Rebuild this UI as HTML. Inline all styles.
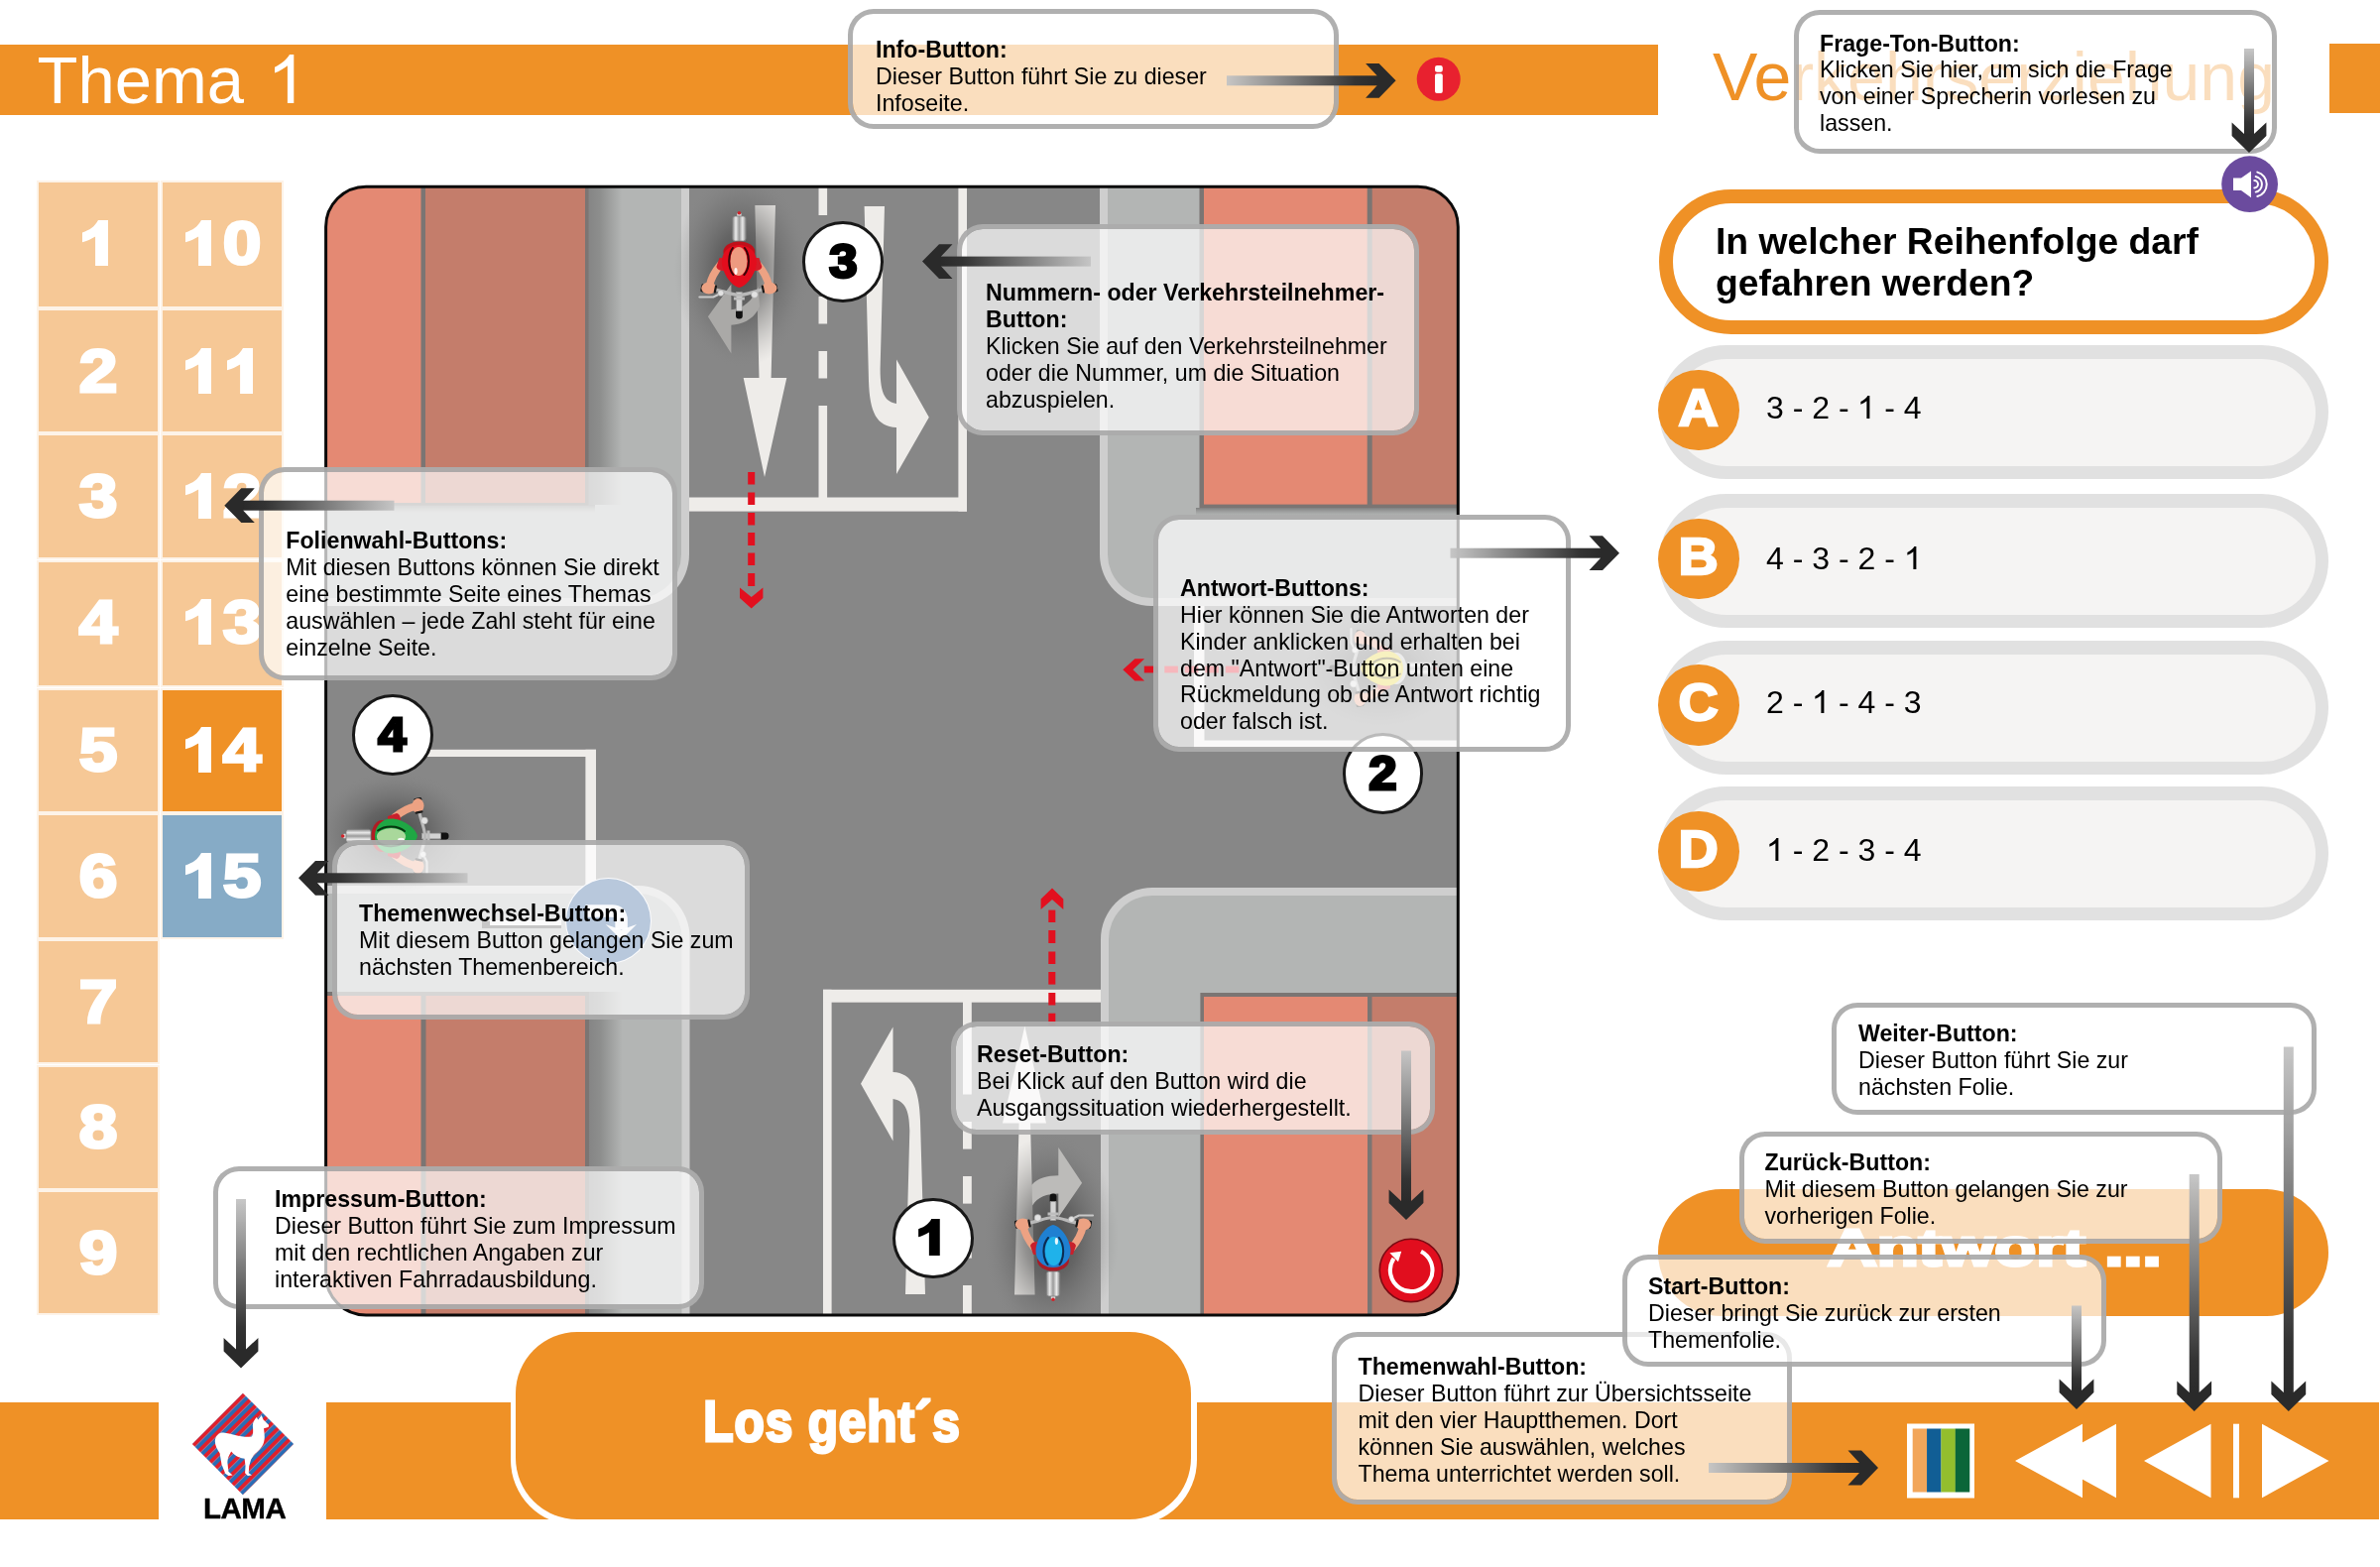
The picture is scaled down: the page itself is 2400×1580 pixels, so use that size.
<!DOCTYPE html><html><head><meta charset='utf-8'><title>Thema 1</title><style>
*{box-sizing:border-box;margin:0;padding:0}
html,body{width:2400px;height:1580px;background:#fff;overflow:hidden}
body{position:relative;font-family:"Liberation Sans",sans-serif;color:#000}
.abs{position:absolute}
.bar{position:absolute;background:#EF9126}
.cell{position:absolute;background:#F6C896;outline:2px solid rgba(246,200,150,.22)}
.cell span{position:absolute;width:60px;top:25.8px;text-align:center;font-weight:bold;font-size:62px;line-height:70px;color:#fff;-webkit-text-stroke:3px #fff;transform:scaleX(1.12)}
.cell svg{position:absolute;top:37.6px}
.pill{position:absolute;left:1672.5px;width:675.5px;height:135px;border-radius:67.5px;background:#E1E1E1}
.pill i{position:absolute;left:14px;top:14px;right:13px;bottom:13px;border-radius:54px;background:#F5F4F3}
.circ{position:absolute;left:1672.4px;width:81.4px;height:81.4px;border-radius:50%;background:#EF9126;color:#fff;text-align:center;font-weight:bold;font-size:51.5px;line-height:77.5px;-webkit-text-stroke:2.3px #fff}
.circ b{display:inline-block;transform:scaleX(1.08)}
.ans{position:absolute;left:1781px;font-size:32px;line-height:40px;white-space:nowrap}
.tip{position:absolute;border:5px solid rgba(172,172,172,.95);background:rgba(255,255,255,.7);background-clip:padding-box;border-radius:26px}
.tt{position:absolute;font-size:23.2px;line-height:26.9px;white-space:nowrap}
.tt b{font-weight:bold}
.num{position:absolute;width:81.6px;height:81.6px;border-radius:50%;background:#fff;border:3.7px solid #181818;text-align:center;font-weight:bold;font-size:48px;line-height:75.5px;-webkit-text-stroke:3px #000}
.num b{display:inline-block;transform:scaleX(1.06)}
.num svg{position:absolute;left:23.2px;top:18.2px}
</style></head><body><div id='root' style='position:absolute;left:0;top:0;width:2400px;height:1580px;will-change:transform'>
<div class='bar' style='left:0;top:45px;width:1672px;height:71px'></div>
<div class='bar' style='left:2349px;top:43.8px;width:51px;height:70.5px'></div>
<div class='abs' style='left:37.6px;top:40.6px;font-size:67px;line-height:80px;color:#fff;white-space:nowrap'>Thema</div>
<svg class='abs' style='left:277.3px;top:54.5px' width='19.3' height='49' viewBox='0 0 19.3 49'><path d='M19.3 49 H12.9 V11.2 C9.6 14 4.6 16.9 0 18.5 V12.7 C6.6 9.6 12.4 4.6 15 0 H19.3 Z' fill='#fff'/></svg>
<div class='abs' style='left:1727px;top:37px;font-size:68px;line-height:80px;color:#EF9126;white-space:nowrap'>Verkehrserziehung</div>
<div class='cell' style='left:39px;top:184.3px;width:120px;height:124.4px'><svg style='left:43.9px' width='26.4' height='46' viewBox='0 0 26.4 46'><path d='M16 0 H26.4 V46 H13.1 V16.4 C9 19 4.5 21 0 22.2 V12.4 C7.5 10 12.5 6.5 16 0 Z' fill='#fff'/></svg></div>
<div class='cell' style='left:39px;top:313px;width:120px;height:122.1px'><span style='left:30px'>2</span></div>
<div class='cell' style='left:39px;top:439.4px;width:120px;height:122.8px'><span style='left:30px'>3</span></div>
<div class='cell' style='left:39px;top:566.5px;width:120px;height:124.8px'><span style='left:30px'>4</span></div>
<div class='cell' style='left:39px;top:695.6px;width:120px;height:122.5px'><span style='left:30px'>5</span></div>
<div class='cell' style='left:39px;top:822.4px;width:120px;height:122.4px'><span style='left:30px'>6</span></div>
<div class='cell' style='left:39px;top:949.1px;width:120px;height:122.1px'><span style='left:30px'>7</span></div>
<div class='cell' style='left:39px;top:1075.5px;width:120px;height:122.3px'><span style='left:30px'>8</span></div>
<div class='cell' style='left:39px;top:1202.1px;width:120px;height:122.4px'><span style='left:30px'>9</span></div>
<div class='cell' style='left:163.5px;top:184.3px;width:120.3px;height:124.4px;'><svg style='left:23.3px' width='26.4' height='46' viewBox='0 0 26.4 46'><path d='M16 0 H26.4 V46 H13.1 V16.4 C9 19 4.5 21 0 22.2 V12.4 C7.5 10 12.5 6.5 16 0 Z' fill='#fff'/></svg><span style='left:50.8px'>0</span></div>
<div class='cell' style='left:163.5px;top:313px;width:120.3px;height:122.1px;'><svg style='left:23.3px' width='26.4' height='46' viewBox='0 0 26.4 46'><path d='M16 0 H26.4 V46 H13.1 V16.4 C9 19 4.5 21 0 22.2 V12.4 C7.5 10 12.5 6.5 16 0 Z' fill='#fff'/></svg><svg style='left:65px' width='26.4' height='46' viewBox='0 0 26.4 46'><path d='M16 0 H26.4 V46 H13.1 V16.4 C9 19 4.5 21 0 22.2 V12.4 C7.5 10 12.5 6.5 16 0 Z' fill='#fff'/></svg></div>
<div class='cell' style='left:163.5px;top:439.4px;width:120.3px;height:122.8px;'><svg style='left:23.3px' width='26.4' height='46' viewBox='0 0 26.4 46'><path d='M16 0 H26.4 V46 H13.1 V16.4 C9 19 4.5 21 0 22.2 V12.4 C7.5 10 12.5 6.5 16 0 Z' fill='#fff'/></svg><span style='left:50.8px'>2</span></div>
<div class='cell' style='left:163.5px;top:566.5px;width:120.3px;height:124.8px;'><svg style='left:23.3px' width='26.4' height='46' viewBox='0 0 26.4 46'><path d='M16 0 H26.4 V46 H13.1 V16.4 C9 19 4.5 21 0 22.2 V12.4 C7.5 10 12.5 6.5 16 0 Z' fill='#fff'/></svg><span style='left:50.8px'>3</span></div>
<div class='cell' style='left:163.5px;top:695.6px;width:120.3px;height:122.5px;background:#EF9126;'><svg style='left:23.3px' width='26.4' height='46' viewBox='0 0 26.4 46'><path d='M16 0 H26.4 V46 H13.1 V16.4 C9 19 4.5 21 0 22.2 V12.4 C7.5 10 12.5 6.5 16 0 Z' fill='#fff'/></svg><span style='left:50.8px'>4</span></div>
<div class='cell' style='left:163.5px;top:822.4px;width:120.3px;height:122.4px;background:#86ABC6;'><svg style='left:23.3px' width='26.4' height='46' viewBox='0 0 26.4 46'><path d='M16 0 H26.4 V46 H13.1 V16.4 C9 19 4.5 21 0 22.2 V12.4 C7.5 10 12.5 6.5 16 0 Z' fill='#fff'/></svg><span style='left:50.8px'>5</span></div>
<svg class='abs' style='left:0;top:0' width='2400' height='1580' viewBox='0 0 2400 1580'>
<defs>
<clipPath id='sc'><rect x='328.6' y='188.2' width='1141.7' height='1137.8' rx='40.5' ry='40.5'/></clipPath>
<linearGradient id='shE' x1='0' x2='1' y1='0' y2='0'><stop offset='0' stop-color='#858585'/><stop offset='.35' stop-color='#8d8e8d'/><stop offset='1' stop-color='#B3B5B4'/></linearGradient>
<linearGradient id='shS' x1='0' x2='0' y1='0' y2='1'><stop offset='0' stop-color='#6e6e6e' stop-opacity='.75'/><stop offset='1' stop-color='#8a8a8a' stop-opacity='0'/></linearGradient>
<radialGradient id='shd'><stop offset='0' stop-color='#3a3a3a' stop-opacity='.8'/><stop offset='.4' stop-color='#484848' stop-opacity='.55'/><stop offset='.75' stop-color='#606060' stop-opacity='.22'/><stop offset='1' stop-color='#808080' stop-opacity='0'/></radialGradient>
<linearGradient id='rack' x1='0' x2='1' y1='0' y2='0'><stop offset='0' stop-color='#8d8d8d'/><stop offset='.25' stop-color='#e8e8e8'/><stop offset='.5' stop-color='#9a9a9a'/><stop offset='.75' stop-color='#ececec'/><stop offset='1' stop-color='#858585'/></linearGradient>
</defs>
<g clip-path='url(#sc)'>
<rect x='328' y='186' width='1146' height='1144' fill='#878787'/>
<path d='M320 180 H695 V559 A52 52 0 0 1 643 611 H320 Z' fill='#CECECE'/>
<path d='M320 180 H687 V559 A44 44 0 0 1 643 603 H320 Z' fill='#B3B5B4'/>
<path d='M1480 180 H1109 V559 A52 52 0 0 0 1161 611 H1480 Z' fill='#CECECE'/>
<path d='M1480 180 H1117 V559 A44 44 0 0 0 1161 603 H1480 Z' fill='#B3B5B4'/>
<path d='M320 1335 H695.5 V945 A52 52 0 0 0 643.5 893 H320 Z' fill='#CECECE'/>
<path d='M320 1335 H687.5 V945 A44 44 0 0 0 643.5 901 H320 Z' fill='#B3B5B4'/>
<path d='M1480 1335 H1110 V947 A52 52 0 0 1 1162 895 H1480 Z' fill='#CECECE'/>
<path d='M1480 1335 H1118 V947 A44 44 0 0 1 1162 903 H1480 Z' fill='#B3B5B4'/>
<rect x='593' y='186' width='34' height='323' fill='url(#shE)'/>
<rect x='328' y='509' width='272' height='8' fill='url(#shS)'/>
<rect x='320' y='180' width='273.5' height='329.5' fill='#7B7573'/>
<rect x='320' y='180' width='104.5' height='327' fill='#E48973'/>
<rect x='429' y='180' width='161' height='327' fill='#C47D6B'/>
<rect x='593.5' y='1000' width='34' height='340' fill='url(#shE)'/>
<rect x='320' y='1000' width='274' height='340' fill='#7B7573'/>
<rect x='320' y='1004' width='104.5' height='340' fill='#E48973'/>
<rect x='429.5' y='1004' width='160.5' height='340' fill='#C47D6B'/>
<rect x='1206' y='512' width='280' height='8' fill='url(#shS)'/>
<rect x='1209.5' y='180' width='280' height='332' fill='#7B7573'/>
<rect x='1214' y='180' width='164.7' height='328.6' fill='#E48973'/>
<rect x='1383.7' y='180' width='100' height='328.6' fill='#C47D6B'/>
<rect x='1210.4' y='1001' width='280' height='340' fill='#7B7573'/>
<rect x='1214' y='1005' width='165' height='340' fill='#E48973'/>
<rect x='1383.5' y='1005' width='100' height='340' fill='#C47D6B'/>
<rect x='966.4' y='186' width='8.6' height='329.6' fill='#EEECE9'/>
<rect x='695' y='501.5' width='280' height='14.1' fill='#EEECE9'/>
<rect x='825.5' y='186' width='8.6' height='31' fill='#EEECE9'/>
<rect x='825.5' y='244' width='8.6' height='27.5' fill='#EEECE9'/>
<rect x='825.5' y='299' width='8.6' height='27.5' fill='#EEECE9'/>
<rect x='825.5' y='354' width='8.6' height='27.5' fill='#EEECE9'/>
<rect x='825.5' y='409' width='8.6' height='93' fill='#EEECE9'/>
<rect x='830' y='997.8' width='8.6' height='335' fill='#EEECE9'/>
<rect x='830' y='997.8' width='280' height='12.9' fill='#EEECE9'/>
<rect x='971' y='1010' width='8.8' height='93.5' fill='#EEECE9'/>
<rect x='971' y='1131' width='8.8' height='27.59999999999991' fill='#EEECE9'/>
<rect x='971' y='1186' width='8.8' height='27.59999999999991' fill='#EEECE9'/>
<rect x='971' y='1241' width='8.8' height='27.59999999999991' fill='#EEECE9'/>
<rect x='971' y='1296' width='8.8' height='34' fill='#EEECE9'/>
<rect x='395' y='755.8' width='206' height='7.2' fill='#EEECE9'/>
<rect x='590.4' y='755.8' width='10.6' height='138' fill='#EEECE9'/>
<rect x='1204' y='611' width='10.5' height='143.5' fill='#EEECE9'/>
<rect x='1204' y='746.5' width='280' height='8' fill='#EEECE9'/>
<path d='M761.3 207 H782 L777.6 381 H793.3 L771 481 L749.7 381 H765.5 Z' fill='#EEECE9'/>
<path d='M871.6 208 H892 L887.6 372 C887.6 398 893 405 904 407 V362.6 L936.8 420.8 L904 478 V431 C884 430 877 416 876 384 Z' fill='#EEECE9'/>
<path d='M913 1305 H933 L928 1130 C927 1098 920 1082 900.5 1081 V1035.5 L868 1092.8 L900.5 1150.4 V1108 C912 1110 917 1118 917.3 1140 Z' fill='#EEECE9'/>
<path d='M1023 1305.5 H1043.6 L1039 1132.6 H1055 L1033.4 1034.6 L1011 1132.6 H1027.6 Z' fill='#EEECE9'/>
<ellipse cx='748' cy='272' rx='68' ry='98' fill='url(#shd)'/>
<ellipse cx='1060' cy='1248' rx='68' ry='105' fill='url(#shd)'/>
<ellipse cx='398' cy='840' rx='80' ry='62' fill='url(#shd)'/>
<ellipse cx='1392' cy='676' rx='85' ry='62' fill='url(#shd)'/>
<path d='M737.4 327.8 C750 327 761 321 766 309 L764.5 289 C760 302 750 311.5 737.4 312.3 V286.4 L713.9 319.2 L737.4 356.5 Z' fill='#aaa9a7'/>
<path d='M1040.2 1195 C1046 1188 1056 1185.2 1067.3 1185.2 V1157 L1091.1 1192.8 L1067.3 1227.5 V1203.6 C1056 1203.6 1046 1207 1041.2 1215.6 Z' fill='#bcbbb9'/>
<rect x='754.2' y='476' width='7' height='12.5' fill='#E2101F'/>
<rect x='754.2' y='496.5' width='7' height='12.5' fill='#E2101F'/>
<rect x='754.2' y='517' width='7' height='12.5' fill='#E2101F'/>
<rect x='754.2' y='537' width='7' height='13.0' fill='#E2101F'/>
<rect x='754.2' y='557.5' width='7' height='12.5' fill='#E2101F'/>
<rect x='754.2' y='578' width='7' height='13.0' fill='#E2101F'/>
<path d='M746 592.5 L757.7 602 L769.4 592.5 V603 L757.7 613.5 L746 603 Z' fill='#E2101F'/>
<rect x='1057.3' y='917.6' width='7' height='12.4' fill='#E2101F'/>
<rect x='1057.3' y='938' width='7' height='13.0' fill='#E2101F'/>
<rect x='1057.3' y='959.5' width='7' height='12.5' fill='#E2101F'/>
<rect x='1057.3' y='980' width='7' height='12.6' fill='#E2101F'/>
<rect x='1057.3' y='1001' width='7' height='12.5' fill='#E2101F'/>
<rect x='1057.3' y='1021.7' width='7' height='12.3' fill='#E2101F'/>
<path d='M1049.6 917 L1061 907 L1072.3 917 V906.5 L1061 895.5 L1049.6 906.5 Z' fill='#E2101F'/>
<rect x='1153.8' y='671.6' width='13.6' height='6.8' fill='#E2101F'/>
<rect x='1174.3' y='671.6' width='13.6' height='6.8' fill='#E2101F'/>
<rect x='1194.8' y='671.6' width='13.6' height='6.8' fill='#E2101F'/>
<rect x='1215.3' y='671.6' width='13.6' height='6.8' fill='#E2101F'/>
<rect x='1235.8' y='671.6' width='13.6' height='6.8' fill='#E2101F'/>
<path d='M1154.1 664.2 L1142.5 675.2 L1154.1 686.6 H1144.4 L1132.3 675.2 L1144.4 664.2 Z' fill='#E2101F'/>
<g opacity='.95'><g transform='translate(1395 674) rotate(-90)'>
<rect x='-2.2' y='48' width='4.4' height='4.5' rx='1.5' fill='#d9d9d9'/><circle cx='0' cy='52.3' r='1.8' fill='#D2232A'/>
<rect x='-6.8' y='24' width='13.6' height='25' rx='2.5' fill='url(#rack)' stroke='#7d7d7d' stroke-width='.8'/>
<rect x='-3.4' y='-54.5' width='6.8' height='10' rx='3' fill='#111'/>
<rect x='-2.8' y='-46.5' width='5.6' height='19' fill='#d4d4d4' stroke='#9a9a9a' stroke-width='.6'/>
<rect x='-5.5' y='-35.5' width='11' height='3' fill='#bdbdbd'/>
<path d='M-26 -24.5 C-16 -26 -8 -30.5 0 -30.5 C8 -30.5 16 -26 26 -24.5' fill='none' stroke='#b9b9b9' stroke-width='3.2' stroke-linecap='round'/>
<path d='M19 -29 L26 -32.5 H40' fill='none' stroke='#c9c9c9' stroke-width='2.2' stroke-linecap='round'/>
<circle cx='-15.5' cy='-30' r='3.4' fill='#e2e2e2' stroke='#a5a5a5' stroke-width='.6'/><circle cx='18.5' cy='-28.5' r='3' fill='#e2e2e2' stroke='#a5a5a5' stroke-width='.6'/>
<rect x='-38.5' y='-27.5' width='4' height='8' rx='1.5' fill='#1a1a1a' transform='rotate(-12 -36 -23)'/><rect x='34.5' y='-27.5' width='4' height='8' rx='1.5' fill='#1a1a1a' transform='rotate(12 36 -23)'/>
<path d='M-30 -21 C-28 -12 -24 -6 -19 0' fill='none' stroke='#EDA283' stroke-width='7.5' stroke-linecap='round'/>
<path d='M30 -21 C28 -12 24 -6 19 0' fill='none' stroke='#EDA283' stroke-width='7.5' stroke-linecap='round'/>
<ellipse cx='-30.5' cy='-23.5' rx='7.6' ry='6' fill='#EDA283'/><ellipse cx='30.5' cy='-23.5' rx='7.6' ry='6' fill='#EDA283'/>
<rect x='-25' y='-28.5' width='2.2' height='8' rx='1' fill='#1a1a1a' transform='rotate(-12 -24 -24)'/><rect x='22.8' y='-28.5' width='2.2' height='8' rx='1' fill='#1a1a1a' transform='rotate(12 24 -24)'/>
<path d='M-23 -2 C-22 -6 -16 -7 -12 -5 L12 -5 C16 -7 22 -6 23 -2 L20 7 L-20 7 Z' fill='#D9534F'/>
<ellipse cx='0' cy='13' rx='16' ry='10.5' fill='#c9c9c9'/>
<path d='M0 -23 C9 -21 17.5 -7 17.5 3 C17.5 13 10 20 0 20 C-10 20 -17.5 13 -17.5 3 C-17.5 -7 -9 -21 0 -23 Z' fill='#EBD62B'/>
<ellipse cx='0.5' cy='3.5' rx='8.6' ry='14.6' fill='#F6E660'/>
<path d='M-5 -10 C-11 -3 -11 10 -5.5 17' fill='none' stroke='#4b3d05' stroke-width='2' stroke-linecap='round'/>
<path d='M6 -10 C11.5 -3 11.5 10 6.5 17' fill='none' stroke='#4b3d05' stroke-width='2' stroke-linecap='round'/>
<ellipse cx='3.4' cy='-6.5' rx='1.6' ry='3.4' fill='#fff' opacity='.9'/>
</g></g>
<g transform='translate(745.4 267) rotate(180)'>
<rect x='-2.2' y='48' width='4.4' height='4.5' rx='1.5' fill='#d9d9d9'/><circle cx='0' cy='52.3' r='1.8' fill='#D2232A'/>
<rect x='-6.8' y='24' width='13.6' height='25' rx='2.5' fill='url(#rack)' stroke='#7d7d7d' stroke-width='.8'/>
<rect x='-3.4' y='-54.5' width='6.8' height='10' rx='3' fill='#111'/>
<rect x='-2.8' y='-46.5' width='5.6' height='19' fill='#d4d4d4' stroke='#9a9a9a' stroke-width='.6'/>
<rect x='-5.5' y='-35.5' width='11' height='3' fill='#bdbdbd'/>
<path d='M-26 -24.5 C-16 -26 -8 -30.5 0 -30.5 C8 -30.5 16 -26 26 -24.5' fill='none' stroke='#b9b9b9' stroke-width='3.2' stroke-linecap='round'/>
<path d='M19 -29 L26 -32.5 H40' fill='none' stroke='#c9c9c9' stroke-width='2.2' stroke-linecap='round'/>
<circle cx='-15.5' cy='-30' r='3.4' fill='#e2e2e2' stroke='#a5a5a5' stroke-width='.6'/><circle cx='18.5' cy='-28.5' r='3' fill='#e2e2e2' stroke='#a5a5a5' stroke-width='.6'/>
<rect x='-38.5' y='-27.5' width='4' height='8' rx='1.5' fill='#1a1a1a' transform='rotate(-12 -36 -23)'/><rect x='34.5' y='-27.5' width='4' height='8' rx='1.5' fill='#1a1a1a' transform='rotate(12 36 -23)'/>
<path d='M-30 -21 C-28 -12 -24 -6 -19 0' fill='none' stroke='#EDA283' stroke-width='7.5' stroke-linecap='round'/>
<path d='M30 -21 C28 -12 24 -6 19 0' fill='none' stroke='#EDA283' stroke-width='7.5' stroke-linecap='round'/>
<ellipse cx='-30.5' cy='-23.5' rx='7.6' ry='6' fill='#EDA283'/><ellipse cx='30.5' cy='-23.5' rx='7.6' ry='6' fill='#EDA283'/>
<rect x='-25' y='-28.5' width='2.2' height='8' rx='1' fill='#1a1a1a' transform='rotate(-12 -24 -24)'/><rect x='22.8' y='-28.5' width='2.2' height='8' rx='1' fill='#1a1a1a' transform='rotate(12 24 -24)'/>
<path d='M-23 -2 C-22 -6 -16 -7 -12 -5 L12 -5 C16 -7 22 -6 23 -2 L20 7 L-20 7 Z' fill='#D41B27'/>
<ellipse cx='0' cy='13' rx='16' ry='10.5' fill='#C0101A'/>
<path d='M0 -23 C9 -21 17.5 -7 17.5 3 C17.5 13 10 20 0 20 C-10 20 -17.5 13 -17.5 3 C-17.5 -7 -9 -21 0 -23 Z' fill='#E30D1D'/>
<ellipse cx='0.5' cy='3.5' rx='8.6' ry='14.6' fill='#EE9A80'/>
<path d='M-5 -10 C-11 -3 -11 10 -5.5 17' fill='none' stroke='#3a0508' stroke-width='2' stroke-linecap='round'/>
<path d='M6 -10 C11.5 -3 11.5 10 6.5 17' fill='none' stroke='#3a0508' stroke-width='2' stroke-linecap='round'/>
<ellipse cx='3.4' cy='-6.5' rx='1.6' ry='3.4' fill='#fff' opacity='.9'/>
</g>
<g transform='translate(1062 1258) rotate(0)'>
<rect x='-2.2' y='48' width='4.4' height='4.5' rx='1.5' fill='#d9d9d9'/><circle cx='0' cy='52.3' r='1.8' fill='#D2232A'/>
<rect x='-6.8' y='24' width='13.6' height='25' rx='2.5' fill='url(#rack)' stroke='#7d7d7d' stroke-width='.8'/>
<rect x='-3.4' y='-54.5' width='6.8' height='10' rx='3' fill='#111'/>
<rect x='-2.8' y='-46.5' width='5.6' height='19' fill='#d4d4d4' stroke='#9a9a9a' stroke-width='.6'/>
<rect x='-5.5' y='-35.5' width='11' height='3' fill='#bdbdbd'/>
<path d='M-26 -24.5 C-16 -26 -8 -30.5 0 -30.5 C8 -30.5 16 -26 26 -24.5' fill='none' stroke='#b9b9b9' stroke-width='3.2' stroke-linecap='round'/>
<path d='M19 -29 L26 -32.5 H40' fill='none' stroke='#c9c9c9' stroke-width='2.2' stroke-linecap='round'/>
<circle cx='-15.5' cy='-30' r='3.4' fill='#e2e2e2' stroke='#a5a5a5' stroke-width='.6'/><circle cx='18.5' cy='-28.5' r='3' fill='#e2e2e2' stroke='#a5a5a5' stroke-width='.6'/>
<rect x='-38.5' y='-27.5' width='4' height='8' rx='1.5' fill='#1a1a1a' transform='rotate(-12 -36 -23)'/><rect x='34.5' y='-27.5' width='4' height='8' rx='1.5' fill='#1a1a1a' transform='rotate(12 36 -23)'/>
<path d='M-30 -21 C-28 -12 -24 -6 -19 0' fill='none' stroke='#EDA283' stroke-width='7.5' stroke-linecap='round'/>
<path d='M30 -21 C28 -12 24 -6 19 0' fill='none' stroke='#EDA283' stroke-width='7.5' stroke-linecap='round'/>
<ellipse cx='-30.5' cy='-23.5' rx='7.6' ry='6' fill='#EDA283'/><ellipse cx='30.5' cy='-23.5' rx='7.6' ry='6' fill='#EDA283'/>
<rect x='-25' y='-28.5' width='2.2' height='8' rx='1' fill='#1a1a1a' transform='rotate(-12 -24 -24)'/><rect x='22.8' y='-28.5' width='2.2' height='8' rx='1' fill='#1a1a1a' transform='rotate(12 24 -24)'/>
<path d='M-23 -2 C-22 -6 -16 -7 -12 -5 L12 -5 C16 -7 22 -6 23 -2 L20 7 L-20 7 Z' fill='#C8202B'/>
<ellipse cx='0' cy='13' rx='16' ry='10.5' fill='#A81C28'/>
<path d='M0 -23 C9 -21 17.5 -7 17.5 3 C17.5 13 10 20 0 20 C-10 20 -17.5 13 -17.5 3 C-17.5 -7 -9 -21 0 -23 Z' fill='#1F80D2'/>
<ellipse cx='0.5' cy='3.5' rx='8.6' ry='14.6' fill='#1FB2EA'/>
<path d='M-5 -10 C-11 -3 -11 10 -5.5 17' fill='none' stroke='#0B2C50' stroke-width='2' stroke-linecap='round'/>
<path d='M6 -10 C11.5 -3 11.5 10 6.5 17' fill='none' stroke='#0B2C50' stroke-width='2' stroke-linecap='round'/>
<ellipse cx='3.4' cy='-6.5' rx='1.6' ry='3.4' fill='#fff' opacity='.9'/>
</g>
<g transform='translate(398 843) rotate(90)'>
<rect x='-2.2' y='48' width='4.4' height='4.5' rx='1.5' fill='#d9d9d9'/><circle cx='0' cy='52.3' r='1.8' fill='#D2232A'/>
<rect x='-6.8' y='24' width='13.6' height='25' rx='2.5' fill='url(#rack)' stroke='#7d7d7d' stroke-width='.8'/>
<rect x='-3.4' y='-54.5' width='6.8' height='10' rx='3' fill='#111'/>
<rect x='-2.8' y='-46.5' width='5.6' height='19' fill='#d4d4d4' stroke='#9a9a9a' stroke-width='.6'/>
<rect x='-5.5' y='-35.5' width='11' height='3' fill='#bdbdbd'/>
<path d='M-26 -24.5 C-16 -26 -8 -30.5 0 -30.5 C8 -30.5 16 -26 26 -24.5' fill='none' stroke='#b9b9b9' stroke-width='3.2' stroke-linecap='round'/>
<path d='M19 -29 L26 -32.5 H40' fill='none' stroke='#c9c9c9' stroke-width='2.2' stroke-linecap='round'/>
<circle cx='-15.5' cy='-30' r='3.4' fill='#e2e2e2' stroke='#a5a5a5' stroke-width='.6'/><circle cx='18.5' cy='-28.5' r='3' fill='#e2e2e2' stroke='#a5a5a5' stroke-width='.6'/>
<rect x='-38.5' y='-27.5' width='4' height='8' rx='1.5' fill='#1a1a1a' transform='rotate(-12 -36 -23)'/><rect x='34.5' y='-27.5' width='4' height='8' rx='1.5' fill='#1a1a1a' transform='rotate(12 36 -23)'/>
<path d='M-30 -21 C-28 -12 -24 -6 -19 0' fill='none' stroke='#EDA283' stroke-width='7.5' stroke-linecap='round'/>
<path d='M30 -21 C28 -12 24 -6 19 0' fill='none' stroke='#EDA283' stroke-width='7.5' stroke-linecap='round'/>
<ellipse cx='-30.5' cy='-23.5' rx='7.6' ry='6' fill='#EDA283'/><ellipse cx='30.5' cy='-23.5' rx='7.6' ry='6' fill='#EDA283'/>
<rect x='-25' y='-28.5' width='2.2' height='8' rx='1' fill='#1a1a1a' transform='rotate(-12 -24 -24)'/><rect x='22.8' y='-28.5' width='2.2' height='8' rx='1' fill='#1a1a1a' transform='rotate(12 24 -24)'/>
<path d='M-23 -2 C-22 -6 -16 -7 -12 -5 L12 -5 C16 -7 22 -6 23 -2 L20 7 L-20 7 Z' fill='#C8202B'/>
<ellipse cx='0' cy='13' rx='16' ry='10.5' fill='#B01C24'/>
<path d='M0 -23 C9 -21 17.5 -7 17.5 3 C17.5 13 10 20 0 20 C-10 20 -17.5 13 -17.5 3 C-17.5 -7 -9 -21 0 -23 Z' fill='#1FA744'/>
<ellipse cx='0.5' cy='3.5' rx='8.6' ry='14.6' fill='#A9D89B'/>
<path d='M-5 -10 C-11 -3 -11 10 -5.5 17' fill='none' stroke='#06350f' stroke-width='2' stroke-linecap='round'/>
<path d='M6 -10 C11.5 -3 11.5 10 6.5 17' fill='none' stroke='#06350f' stroke-width='2' stroke-linecap='round'/>
<ellipse cx='3.4' cy='-6.5' rx='1.6' ry='3.4' fill='#fff' opacity='.9'/>
</g>
</g>
<rect x='328.6' y='188.2' width='1141.7' height='1137.8' rx='40.5' ry='40.5' fill='none' stroke='#0a0a0a' stroke-width='3'/>
</svg>
<div class='num' style='left:809.2px;top:223.2px'><b>3</b></div>
<div class='num' style='left:355.0px;top:700.2px'><b>4</b></div>
<div class='num' style='left:1353.7px;top:739.2px'><b>2</b></div>
<div class='num' style='left:900.1px;top:1207.6px'><svg width='21.9' height='37.7' viewBox='0 0 26.4 46'><path d='M16 0 H26.4 V46 H13.1 V16.4 C9 19 4.5 21 0 22.2 V12.4 C7.5 10 12.5 6.5 16 0 Z' fill='#000'/></svg></div>

<div class='abs' style='left:1673px;top:191px;width:675px;height:146px;border-radius:73px;border:14px solid #EF9126;background:#fff'></div>
<div class='abs' style='left:1730px;top:221.5px;font-size:37.3px;line-height:42.5px;font-weight:bold;white-space:nowrap'>In welcher Reihenfolge darf<br>gefahren werden?</div>
<div class='pill' style='top:348px'><i></i></div>
<div class='circ' style='top:373.0px'><b>A</b></div>
<div class='ans' style='top:391.0px'>3 - 2 - <svg style='display:inline-block;vertical-align:baseline' width='17.79' height='22.91' viewBox='-7.19 0 38.05 49'><path d='M19.3 49 H12.9 V11.2 C9.6 14 4.6 16.9 0 18.5 V12.7 C6.6 9.6 12.4 4.6 15 0 H19.3 Z'/></svg> - 4</div>
<div class='pill' style='top:498px'><i></i></div>
<div class='circ' style='top:522.7px'><b>B</b></div>
<div class='ans' style='top:542.5px'>4 - 3 - 2 - <svg style='display:inline-block;vertical-align:baseline' width='17.79' height='22.91' viewBox='-7.19 0 38.05 49'><path d='M19.3 49 H12.9 V11.2 C9.6 14 4.6 16.9 0 18.5 V12.7 C6.6 9.6 12.4 4.6 15 0 H19.3 Z'/></svg></div>
<div class='pill' style='top:645.6px'><i></i></div>
<div class='circ' style='top:670.3px'><b>C</b></div>
<div class='ans' style='top:687.8px'>2 - <svg style='display:inline-block;vertical-align:baseline' width='17.79' height='22.91' viewBox='-7.19 0 38.05 49'><path d='M19.3 49 H12.9 V11.2 C9.6 14 4.6 16.9 0 18.5 V12.7 C6.6 9.6 12.4 4.6 15 0 H19.3 Z'/></svg> - 4 - 3</div>
<div class='pill' style='top:793.2px'><i></i></div>
<div class='circ' style='top:818.0px'><b>D</b></div>
<div class='ans' style='top:836.5px'><svg style='display:inline-block;vertical-align:baseline' width='17.79' height='22.91' viewBox='-7.19 0 38.05 49'><path d='M19.3 49 H12.9 V11.2 C9.6 14 4.6 16.9 0 18.5 V12.7 C6.6 9.6 12.4 4.6 15 0 H19.3 Z'/></svg> - 2 - 3 - 4</div>
<div class='abs' style='left:1672px;top:1199px;width:676px;height:128px;border-radius:64px;background:#EF9126'></div>
<div class='abs' style='left:1843px;top:1229px;font-size:51px;line-height:60px;font-weight:bold;color:#fff;-webkit-text-stroke:3px #fff;white-space:nowrap;transform-origin:0 50%;transform:scaleX(1.35)'>Antwort ...</div>
<div class='bar' style='left:0;top:1414px;width:160px;height:118px'></div>
<div class='bar' style='left:329px;top:1414px;width:2069.5px;height:118px'></div>
<div class='abs' style='left:514.5px;top:1337.6px;width:692px;height:200px;border-radius:66px;background:#fff'></div>
<div class='abs' style='left:519.7px;top:1342.8px;width:681.5px;height:189.5px;border-radius:62px;background:#EF9126'></div>
<div class='abs' style='left:539px;top:1397.7px;width:600px;text-align:center;font-size:58px;line-height:70px;font-weight:bold;color:#fff;-webkit-text-stroke:3px #fff;white-space:nowrap;transform:scaleX(.855);letter-spacing:1px'>Los geht´s</div>
<svg class='abs' style='left:0;top:0' width='2400' height='1580' viewBox='0 0 2400 1580'>
<circle cx='1450.7' cy='79.8' r='22' fill='#E8212F'/><rect x='1447' y='66' width='7.8' height='6.7' rx='2.2' fill='#fff'/><rect x='1447' y='74.2' width='7.8' height='19.9' rx='2' fill='#fff'/>
<rect x='1923' y='1435.5' width='68' height='75' fill='#fff'/>
<rect x='1928.70' y='1440.5' width='14.5' height='64' fill='#F2A65A'/>
<rect x='1943.05' y='1440.5' width='14.5' height='64' fill='#115E95'/>
<rect x='1957.40' y='1440.5' width='14.5' height='64' fill='#93BE2D'/>
<rect x='1971.75' y='1440.5' width='14.5' height='64' fill='#0B6639'/>
<path d='M2032 1473 L2100 1435.7 V1510.3 Z M2066 1473 L2134 1435.7 V1510.3 Z' fill='#fff'/>
<path d='M2162 1473 L2229.5 1435.7 V1510.3 Z' fill='#fff'/>
<rect x='2252' y='1435.7' width='6' height='74.6' fill='#fff'/>
<path d='M2348.5 1473 L2281 1435.7 V1510.3 Z' fill='#fff'/>
<circle cx='2268.6' cy='185.7' r='28.4' fill='#6B4B9E'/>
<path d='M2252 179.6 H2260 L2270 172.4 V199.2 L2260 192 H2252 Z' fill='#fff'/>
<path d='M2273.3 182.1 A3.7 3.7 0 0 1 2273.3 189.5 M2274.7 178 A8 8 0 0 1 2274.7 193.6 M2276.3 173.6 A12.6 12.6 0 0 1 2276.3 198' fill='none' stroke='#fff' stroke-width='2' stroke-linecap='round'/>
<circle cx='1422.9' cy='1280.9' r='31.7' fill='#E10E1E' stroke='#7A0A12' stroke-width='1.6'/>
<path d='M1433 1261.9 A21.3 21.3 0 1 1 1405.5 1268.9' fill='none' stroke='#fff' stroke-width='4.1'/>
<path d='M1401.4 1263.3 L1413.2 1261.7 L1410 1272.3 Z' fill='#fff'/>
<defs><pattern id='stp' width='8.04' height='8.04' patternUnits='userSpaceOnUse' patternTransform='translate(245 1404.7) rotate(-45)'><rect width='8.04' height='4.1' fill='#E0202C'/><rect y='4.1' width='8.04' height='3.94' fill='#2A6DB5'/></pattern></defs>
<path d='M244.9 1404.7 L296.1 1456 L244.9 1507.3 L193.8 1456 Z' fill='url(#stp)'/>
<path transform='translate(180 1395) scale(.0925)' d='M850 368 L868 395 L905 345 L925 395 L985 455 L980 475 L930 490 C935 540 945 590 930 640 C915 700 860 740 820 780 L790 830 L770 900 L765 975 L800 1000 L755 1005 L725 975 L730 900 L720 820 C680 810 620 800 575 740 C545 790 530 830 535 870 L545 960 L590 1000 L545 1005 L510 980 L470 880 L450 760 C420 720 390 660 400 610 C410 560 450 530 490 535 C580 545 680 590 790 580 C815 575 815 520 810 470 C805 430 825 400 850 368 Z' fill='#fff'/>
</svg>
<div class='abs' style='left:202.6px;top:1505.8px;width:88px;text-align:center;font-size:29.5px;line-height:30px;font-weight:bold;letter-spacing:-.5px;-webkit-text-stroke:.4px #000'>LAMA</div>
<div class='tip' style='left:1343px;top:1343px;width:463.6px;height:174.2px'></div>
<div class='tt' style='left:1369.5px;top:1365.1px'><b>Themenwahl-Button:</b><br>Dieser Button führt zur Übersichtsseite<br>mit den vier Hauptthemen. Dort<br>können Sie auswählen, welches<br>Thema unterrichtet werden soll.</div>
<div class='tip' style='left:855px;top:8.5px;width:494.7px;height:121.0px'></div>
<div class='tt' style='left:883px;top:37.3px'><b>Info-Button:</b><br>Dieser Button führt Sie zu dieser<br>Infoseite.</div>
<div class='tip' style='left:1808.5px;top:10px;width:487.5px;height:145.0px'></div>
<div class='tt' style='left:1835px;top:30.5px'><b>Frage-Ton-Button:</b><br>Klicken Sie hier, um sich die Frage<br>von einer Sprecherin vorlesen zu<br>lassen.</div>
<div class='tip' style='left:964.6px;top:225.5px;width:466.4px;height:213.9px'></div>
<div class='tt' style='left:994px;top:282.3px'><b>Nummern- oder Verkehrsteilnehmer-</b><br><b>Button:</b><br>Klicken Sie auf den Verkehrsteilnehmer<br>oder die Nummer, um die Situation<br>abzuspielen.</div>
<div class='tip' style='left:261px;top:470.5px;width:422.3px;height:215.3px'></div>
<div class='tt' style='left:288.3px;top:532.2px'><b>Folienwahl-Buttons:</b><br>Mit diesen Buttons können Sie direkt<br>eine bestimmte Seite eines Themas<br>auswählen – jede Zahl steht für eine<br>einzelne Seite.</div>
<div class='tip' style='left:335px;top:846.7px;width:421.0px;height:181.8px'></div>
<div class='abs' style='left:485.5px;top:928.6px;width:80px;height:7.5px;background:rgba(190,190,190,.8)'></div>
<div class='abs' style='left:494px;top:928.2px;width:71.5px;height:5.2px;background:rgba(255,255,255,.92)'></div>
<div class='abs' style='left:569.8px;top:884.5px;width:87px;height:87px;border-radius:50%;background:#B8C8DC;border:1.5px solid rgba(255,255,255,.95)'></div>
<svg class='abs' style='left:570px;top:885px' width='90' height='90' viewBox='570 885 90 90'><path d='M590.5 918.5 H617 Q626.6 918.5 626.6 928 V937' fill='none' stroke='#fff' stroke-width='12.5' opacity='.93'/><path d='M610.6 932 L626.6 947.5 L642 932 L626.6 937.5 Z' fill='#fff' opacity='.93'/></svg>
<div class='tt' style='left:362px;top:907.8px'><b>Themenwechsel-Button:</b><br>Mit diesem Button gelangen Sie zum<br>nächsten Themenbereich.</div>
<div class='tip' style='left:1163px;top:519px;width:421.0px;height:239.0px'></div>
<div class='tt' style='left:1190px;top:579.8px'><b>Antwort-Buttons:</b><br>Hier können Sie die Antworten der<br>Kinder anklicken und erhalten bei<br>dem "Antwort"-Button unten eine<br>Rückmeldung ob die Antwort richtig<br>oder falsch ist.</div>
<div class='tip' style='left:959px;top:1030px;width:488.0px;height:114.0px'></div>
<div class='tt' style='left:985px;top:1049.8px'><b>Reset-Button:</b><br>Bei Klick auf den Button wird die<br>Ausgangssituation wiederhergestellt.</div>
<div class='tip' style='left:215px;top:1176px;width:495.0px;height:144.4px'></div>
<div class='tt' style='left:277px;top:1195.8px'><b>Impressum-Button:</b><br>Dieser Button führt Sie zum Impressum<br>mit den rechtlichen Angaben zur<br>interaktiven Fahrradausbildung.</div>
<div class='tip' style='left:1636px;top:1265.4px;width:488.0px;height:112.6px'></div>
<div class='tt' style='left:1662px;top:1284.2px'><b>Start-Button:</b><br>Dieser bringt Sie zurück zur ersten<br>Themenfolie.</div>
<div class='tip' style='left:1753.6px;top:1140.7px;width:487.4px;height:113.3px'></div>
<div class='tt' style='left:1779.5px;top:1159.4px'><b>Zurück-Button:</b><br>Mit diesem Button gelangen Sie zur<br>vorherigen Folie.</div>
<div class='tip' style='left:1847px;top:1011px;width:488.6px;height:113.0px'></div>
<div class='tt' style='left:1874px;top:1029.0px'><b>Weiter-Button:</b><br>Dieser Button führt Sie zur<br>nächsten Folie.</div>
<svg class='abs' style='left:0;top:0' width='2400' height='1580' viewBox='0 0 2400 1580'><defs>
<linearGradient id='ag0' gradientUnits='userSpaceOnUse' x1='0' y1='0' x2='152.6' y2='0'><stop offset='0' stop-color='#c4c4c4' stop-opacity='.95'/><stop offset='.45' stop-color='#7a7a7a'/><stop offset='.85' stop-color='#333'/><stop offset='1' stop-color='#2a2a2a'/></linearGradient>
<linearGradient id='ag1' gradientUnits='userSpaceOnUse' x1='0' y1='0' x2='87.0' y2='0'><stop offset='0' stop-color='#c4c4c4' stop-opacity='.95'/><stop offset='.45' stop-color='#7a7a7a'/><stop offset='.85' stop-color='#333'/><stop offset='1' stop-color='#2a2a2a'/></linearGradient>
<linearGradient id='ag2' gradientUnits='userSpaceOnUse' x1='0' y1='0' x2='152.0' y2='0'><stop offset='0' stop-color='#c4c4c4' stop-opacity='.95'/><stop offset='.45' stop-color='#7a7a7a'/><stop offset='.85' stop-color='#333'/><stop offset='1' stop-color='#2a2a2a'/></linearGradient>
<linearGradient id='ag3' gradientUnits='userSpaceOnUse' x1='0' y1='0' x2='153.2' y2='0'><stop offset='0' stop-color='#c4c4c4' stop-opacity='.95'/><stop offset='.45' stop-color='#7a7a7a'/><stop offset='.85' stop-color='#333'/><stop offset='1' stop-color='#2a2a2a'/></linearGradient>
<linearGradient id='ag4' gradientUnits='userSpaceOnUse' x1='0' y1='0' x2='152.5' y2='0'><stop offset='0' stop-color='#c4c4c4' stop-opacity='.95'/><stop offset='.45' stop-color='#7a7a7a'/><stop offset='.85' stop-color='#333'/><stop offset='1' stop-color='#2a2a2a'/></linearGradient>
<linearGradient id='ag5' gradientUnits='userSpaceOnUse' x1='0' y1='0' x2='152.5' y2='0'><stop offset='0' stop-color='#c4c4c4' stop-opacity='.95'/><stop offset='.45' stop-color='#7a7a7a'/><stop offset='.85' stop-color='#333'/><stop offset='1' stop-color='#2a2a2a'/></linearGradient>
<linearGradient id='ag6' gradientUnits='userSpaceOnUse' x1='0' y1='0' x2='152.5' y2='0'><stop offset='0' stop-color='#c4c4c4' stop-opacity='.95'/><stop offset='.45' stop-color='#7a7a7a'/><stop offset='.85' stop-color='#333'/><stop offset='1' stop-color='#2a2a2a'/></linearGradient>
<linearGradient id='ag7' gradientUnits='userSpaceOnUse' x1='0' y1='0' x2='152.5' y2='0'><stop offset='0' stop-color='#c4c4c4' stop-opacity='.95'/><stop offset='.45' stop-color='#7a7a7a'/><stop offset='.85' stop-color='#333'/><stop offset='1' stop-color='#2a2a2a'/></linearGradient>
<linearGradient id='ag8' gradientUnits='userSpaceOnUse' x1='0' y1='0' x2='153.0' y2='0'><stop offset='0' stop-color='#c4c4c4' stop-opacity='.95'/><stop offset='.45' stop-color='#7a7a7a'/><stop offset='.85' stop-color='#333'/><stop offset='1' stop-color='#2a2a2a'/></linearGradient>
<linearGradient id='ag9' gradientUnits='userSpaceOnUse' x1='0' y1='0' x2='86.5' y2='0'><stop offset='0' stop-color='#c4c4c4' stop-opacity='.95'/><stop offset='.45' stop-color='#7a7a7a'/><stop offset='.85' stop-color='#333'/><stop offset='1' stop-color='#2a2a2a'/></linearGradient>
<linearGradient id='ag10' gradientUnits='userSpaceOnUse' x1='0' y1='0' x2='221.0' y2='0'><stop offset='0' stop-color='#c4c4c4' stop-opacity='.95'/><stop offset='.45' stop-color='#7a7a7a'/><stop offset='.85' stop-color='#333'/><stop offset='1' stop-color='#2a2a2a'/></linearGradient>
<linearGradient id='ag11' gradientUnits='userSpaceOnUse' x1='0' y1='0' x2='349.5' y2='0'><stop offset='0' stop-color='#c4c4c4' stop-opacity='.95'/><stop offset='.45' stop-color='#7a7a7a'/><stop offset='.85' stop-color='#333'/><stop offset='1' stop-color='#2a2a2a'/></linearGradient>
</defs>
<g transform='translate(1237 81.3) rotate(0)'><rect x='0' y='-5' width='153.6' height='10' fill='url(#ag0)'/><path d='M170.6 0 L153.6 -17.4 H140.1 L151.6 -5 V5 L140.1 17.4 H153.6 Z' fill='#2a2a2a'/></g>
<g transform='translate(2268 49) rotate(90)'><rect x='0' y='-5' width='88.0' height='10' fill='url(#ag1)'/><path d='M105.0 0 L88.0 -17.4 H74.5 L86.0 -5 V5 L74.5 17.4 H88.0 Z' fill='#2a2a2a'/></g>
<g transform='translate(1100 263.6) rotate(180)'><rect x='0' y='-5' width='153.0' height='10' fill='url(#ag2)'/><path d='M170.0 0 L153.0 -17.4 H139.5 L151.0 -5 V5 L139.5 17.4 H153.0 Z' fill='#2a2a2a'/></g>
<g transform='translate(397.5 509.7) rotate(180)'><rect x='0' y='-5' width='154.2' height='10' fill='url(#ag3)'/><path d='M171.2 0 L154.2 -17.4 H140.7 L152.2 -5 V5 L140.7 17.4 H154.2 Z' fill='#2a2a2a'/></g>
<g transform='translate(471.5 885.3) rotate(180)'><rect x='0' y='-5' width='153.5' height='10' fill='url(#ag4)'/><path d='M170.5 0 L153.5 -17.4 H140.0 L151.5 -5 V5 L140.0 17.4 H153.5 Z' fill='#2a2a2a'/></g>
<g transform='translate(1462.5 557.7) rotate(0)'><rect x='0' y='-5' width='153.5' height='10' fill='url(#ag5)'/><path d='M170.5 0 L153.5 -17.4 H140.0 L151.5 -5 V5 L140.0 17.4 H153.5 Z' fill='#2a2a2a'/></g>
<g transform='translate(1418 1059.5) rotate(90)'><rect x='0' y='-5' width='153.5' height='10' fill='url(#ag6)'/><path d='M170.5 0 L153.5 -17.4 H140.0 L151.5 -5 V5 L140.0 17.4 H153.5 Z' fill='#2a2a2a'/></g>
<g transform='translate(243 1209) rotate(90)'><rect x='0' y='-5' width='153.5' height='10' fill='url(#ag7)'/><path d='M170.5 0 L153.5 -17.4 H140.0 L151.5 -5 V5 L140.0 17.4 H153.5 Z' fill='#2a2a2a'/></g>
<g transform='translate(1723 1480) rotate(0)'><rect x='0' y='-5' width='154.0' height='10' fill='url(#ag8)'/><path d='M171.0 0 L154.0 -17.4 H140.5 L152.0 -5 V5 L140.5 17.4 H154.0 Z' fill='#2a2a2a'/></g>
<g transform='translate(2094 1316.5) rotate(90)'><rect x='0' y='-5' width='87.5' height='10' fill='url(#ag9)'/><path d='M104.5 0 L87.5 -17.4 H74.0 L85.5 -5 V5 L74.0 17.4 H87.5 Z' fill='#2a2a2a'/></g>
<g transform='translate(2212.7 1184) rotate(90)'><rect x='0' y='-5' width='222.0' height='10' fill='url(#ag10)'/><path d='M239.0 0 L222.0 -17.4 H208.5 L220.0 -5 V5 L208.5 17.4 H222.0 Z' fill='#2a2a2a'/></g>
<g transform='translate(2307.8 1055.5) rotate(90)'><rect x='0' y='-5' width='350.5' height='10' fill='url(#ag11)'/><path d='M367.5 0 L350.5 -17.4 H337.0 L348.5 -5 V5 L337.0 17.4 H350.5 Z' fill='#2a2a2a'/></g>
</svg>
</div></body></html>
